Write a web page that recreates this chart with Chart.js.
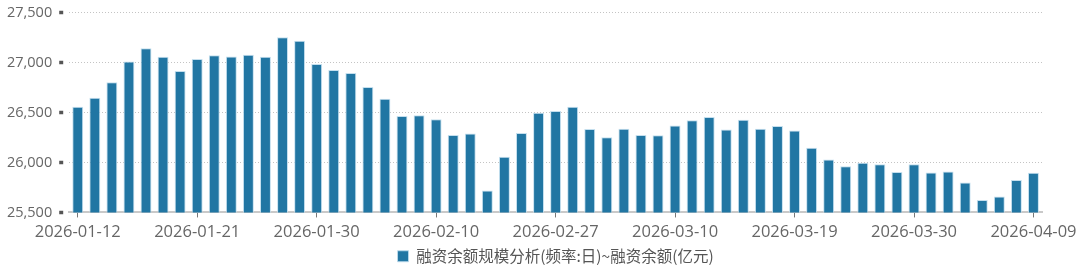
<!DOCTYPE html>
<html>
<head>
<meta charset="utf-8">
<script src="https://cdn.jsdelivr.net/npm/chart.js@4"></script>
<style>
	html, body { margin: 0; padding: 0; background: #fff; }
	#wrap { width: 1080px; height: 265px; position: relative; }
</style>
</head>
<body>
<div id="wrap"><canvas id="margin"></canvas></div>
<script>
// Trading days shown on the x axis
const dates = [
	"2026-01-12", "2026-01-13", "2026-01-14", "2026-01-15", "2026-01-16",
	"2026-01-19", "2026-01-20", "2026-01-21", "2026-01-22", "2026-01-23",
	"2026-01-26", "2026-01-27", "2026-01-28", "2026-01-29", "2026-01-30",
	"2026-02-02", "2026-02-03", "2026-02-04", "2026-02-05", "2026-02-06",
	"2026-02-09", "2026-02-10", "2026-02-11", "2026-02-12", "2026-02-13",
	"2026-02-24", "2026-02-25", "2026-02-26", "2026-02-27",
	"2026-03-02", "2026-03-03", "2026-03-04", "2026-03-05", "2026-03-06",
	"2026-03-09", "2026-03-10", "2026-03-11", "2026-03-12", "2026-03-13",
	"2026-03-16", "2026-03-17", "2026-03-18", "2026-03-19", "2026-03-20",
	"2026-03-23", "2026-03-24", "2026-03-25", "2026-03-26", "2026-03-27",
	"2026-03-30", "2026-03-31", "2026-04-01", "2026-04-02", "2026-04-03",
	"2026-04-07", "2026-04-08", "2026-04-09",
];

// 融资余额 (亿元)
const marginBalance = [
	26560, 26650, 26805, 27012, 27145, 27060, 26918, 27036, 27076, 27063,
	27079, 27060, 27254, 27221, 26987, 26928, 26898, 26757, 26638, 26467,
	26474, 26434, 26276, 26290, 25720, 26059, 26296, 26500, 26517, 26559,
	26336, 26253, 26339, 26276, 26273, 26372, 26424, 26457, 26332, 26428,
	26339, 26365, 26322, 26148, 26030, 25964, 25997, 25984, 25905, 25984,
	25901, 25911, 25799, 25625, 25661, 25826, 25898,
];

const seriesName = "融资余额规模分析(频率:日)~融资余额(亿元)";
const labelEvery = 7;

const yMin = 25500;
const yMax = 27500;
const yStep = 500;

const ctx = document.getElementById("margin");

new Chart(ctx, {
	type: "bar",
	data: {
		labels: dates,
		datasets: [
			{
				label: seriesName,
				data: marginBalance,
				backgroundColor: "#2176a3",
				borderColor: "rgba(190,220,236,0.9)",
				borderWidth: 1,
				barPercentage: 0.64,
				categoryPercentage: 1,
			},
		],
	},
	options: {
		responsive: true,
		maintainAspectRatio: false,
		animation: false,
		layout: {
			// legend sits low, so let its box run a little past the bottom edge
			padding: { top: 2, right: 38, left: 0, bottom: -9 },
		},
		plugins: {
			legend: {
				position: "bottom",
				fullSize: false,
				labels: {
					boxWidth: 11,
					boxHeight: 11,
					padding: 1,
					color: "#555",
					font: { family: "'Noto Sans CJK SC', 'Open Sans', sans-serif", size: 15.5 },
				},
			},
			tooltip: { enabled: false },
		},
		scales: {
			x: {
				afterBuildTicks: axis => {
					// only every 7th trading day gets a label and tick mark
					axis.ticks = axis.ticks.filter((t, i) => i % labelEvery === 0);
				},
				grid: {
					offset: false,
					drawOnChartArea: false,
					drawTicks: true,
					tickLength: 5,
					tickColor: "#777",
					tickWidth: 1,
				},
				border: { display: true, color: "#c9c9c9", width: 2 },
				ticks: {
					autoSkip: false,
					maxRotation: 0,
					padding: 1,
					color: "#666",
					font: { family: "'Open Sans', sans-serif", size: 16.5, lineHeight: 1.7 },
				},
			},
			y: {
				min: yMin,
				max: yMax,
				grid: {
					color: "#c4c4c4",
					lineWidth: 1,
					drawTicks: true,
					tickLength: 10,
					tickWidth: 3.5,
					tickColor: "#555",
					tickBorderDash: [4, 20],
				},
				border: { display: false, dash: [1, 2] },
				ticks: {
					stepSize: yStep,
					padding: 7,
					color: "#666",
					font: { family: "'Open Sans', sans-serif", size: 14.5, lineHeight: 0.8 },
					callback: v => v.toLocaleString("en-US"),
				},
			},
		},
	},
});
</script>
</body>
</html>
